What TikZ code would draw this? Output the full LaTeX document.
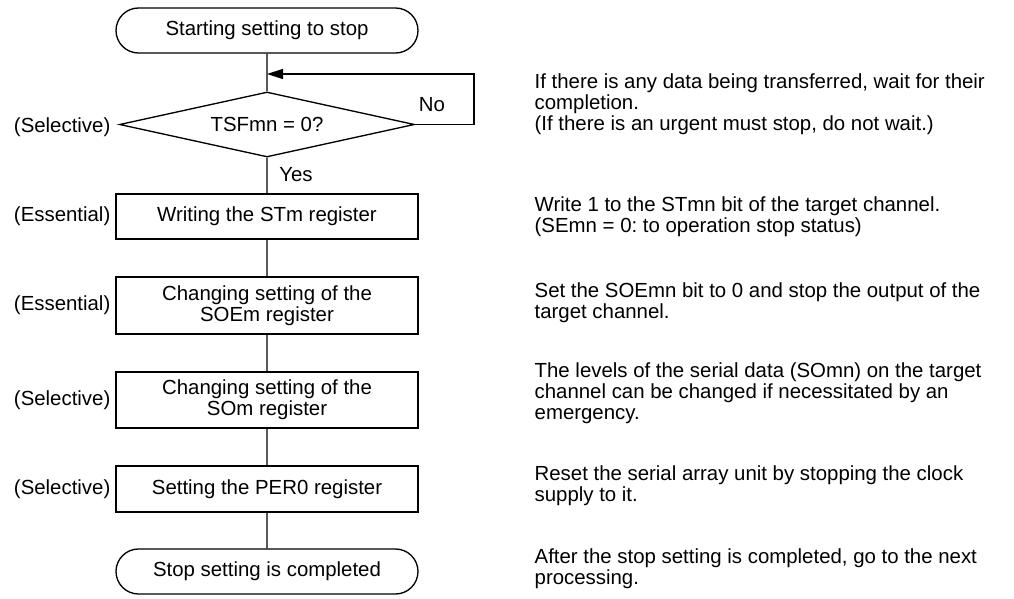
\documentclass[tikz,border=0pt]{standalone}
\usepackage{fontspec}
\setmainfont{Liberation Sans}
\usetikzlibrary{shapes.geometric,shapes.misc,arrows.meta}
\begin{document}
\frenchspacing
\begin{tikzpicture}[x=0.75pt,y=-0.75pt,line width=1pt,
    font=\fontsize{15.3}{15.6}\selectfont]
    % Sumbu y dibalik: koordinat di bawah ini langsung dalam piksel gambar.
    \tikzset{
      ujung/.style={draw,rounded rectangle,minimum width=226.5pt,minimum height=33.75pt,inner sep=0pt},
      proses/.style={draw,rectangle,minimum width=226.5pt,inner sep=0pt},
      pilih/.style={draw,diamond,aspect=4.5,minimum width=221.25pt,minimum height=48.75pt,inner sep=0pt},
      tanda/.style={anchor=east,inner sep=0pt},
      catatan/.style={anchor=west,align=left,inner sep=0pt}}
    \useasboundingbox (0,0) rectangle (1014,599);
    % Alur utama
    \node[ujung] (start) at (267,30.5) {Starting setting to stop};
    \node[pilih] (tsf) at (267,124.5) {TSFmn = 0?};
    \node[proses,minimum height=33.75pt] (wrst) at (267,216.5) {Writing the STm register};
    \node[proses,minimum height=42.75pt,align=center] (soe) at (267,305.5) {Changing setting of the\\SOEm register};
    \node[proses,minimum height=42pt,align=center] (som) at (267,400) {Changing setting of the\\SOm register};
    \node[proses,minimum height=34.5pt] (per) at (267,489) {Setting the PER0 register};
    \node[ujung] (stop) at (267,571.5) {Stop setting is completed};
    \coordinate (balik) at (267,74);
    \coordinate (kanan) at (474,74);
    \draw (start) -- (tsf) -- (wrst) -- (soe) -- (som) -- (per) -- (stop);
    % Menunggu selama TSFmn belum 0
    \draw[-{Triangle[length=12pt,width=7.5pt]}] (tsf.east) -| (kanan) -- (balik);
    \node (no) at (432,105) {No};
    \node (yes) at (296,175) {Yes};
    % Keterangan di kiri
    \node[tanda] (t1) at (111,127) {(Selective)};
    \node[tanda] (t2) at (111,216.5) {(Essential)};
    \node[tanda] (t3) at (111,305.5) {(Essential)};
    \node[tanda] (t4) at (111,400) {(Selective)};
    \node[tanda] (t5) at (111,489) {(Selective)};
    % Penjelasan di kanan
    \node[catatan] (n1) at (534,104) {If there is any data being transferred, wait for their\\completion.\\(If there is an urgent must stop, do not wait.)};
    \node[catatan] (n2) at (534,217) {Write 1 to the STmn bit of the target channel.\\(SEmn = 0: to operation stop status)};
    \node[catatan] (n3) at (534,303) {Set the SOEmn bit to 0 and stop the output of the\\target channel.};
    \node[catatan] (n4) at (534,393) {The levels of the serial data (SOmn) on the target\\channel can be changed if necessitated by an\\emergency.};
    \node[catatan] (n5) at (534,486) {Reset the serial array unit by stopping the clock\\supply to it.};
    \node[catatan] (n6) at (534,569) {After the stop setting is completed, go to the next\\processing.};
  \end{tikzpicture}
\end{document}
